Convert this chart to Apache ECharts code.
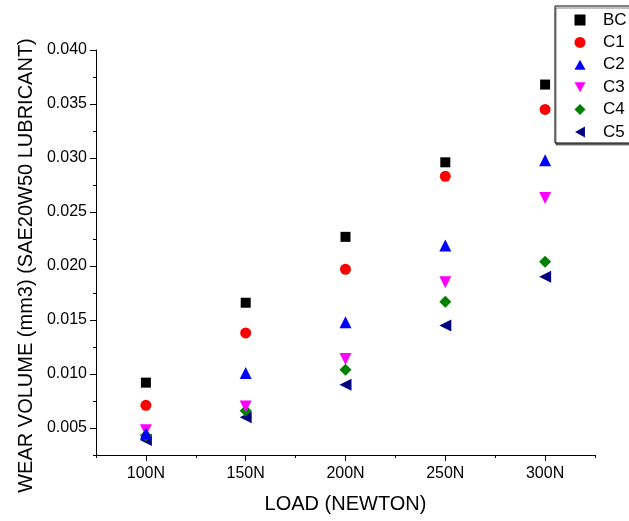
<!DOCTYPE html>
<html><head><meta charset="utf-8">
<script src="https://cdn.jsdelivr.net/npm/echarts@6/dist/echarts.min.js"></script>
<style>html,body{margin:0;padding:0;background:#fff}#c{width:629px;height:521px}</style>
</head><body><div id="c"></div>
<script>
var loads = [100, 150, 200, 250, 300];
var seriesNames = ['BC', 'C1', 'C2', 'C3', 'C4', 'C5'];
var BC = [0.0092, 0.0166, 0.0227, 0.0296, 0.0368];
var C1 = [0.0071, 0.0138, 0.0197, 0.0283, 0.0345];
var C2 = [0.0045, 0.0101, 0.0148, 0.0219, 0.0298];
var C3 = [0.0048, 0.0070, 0.0114, 0.0185, 0.0263];
var C4 = [0.0043, 0.0066, 0.0104, 0.0167, 0.0204];
var C5 = [0.0039, 0.0060, 0.0090, 0.0145, 0.0190];
var yMajor = [0.005, 0.010, 0.015, 0.020, 0.025, 0.030, 0.035, 0.040];
var yMinor = [0.0025, 0.0075, 0.0125, 0.0175, 0.0225, 0.0275, 0.0325, 0.0375];
var xMinor = [75, 125, 175, 225, 275, 325];

var values = [BC, C1, C2, C3, C4, C5];
var colors = ['#000000', '#ff0000', '#0000ff', '#ff00ff', '#008000', '#000080'];
var symbols = ['rect', 'circle', 'triangle', 'triangle', 'diamond', 'triangle'];
var legendIcons = ['rect', 'circle', 'path://M5,0 L10,9 L0,9 Z', 'path://M0,0 L10,0 L5,9 Z', 'diamond', 'path://M0,5 L9,0 L9,10 Z'];
var rotates = [0, 0, 0, 180, 0, 90];
var sizes = [10, 11, 12, 12, 12, 12];
var font = "'Liberation Sans', Arial, sans-serif";

var series = seriesNames.map(function (n, i) {
  return {
    name: n, type: 'scatter', xAxisIndex: 0, yAxisIndex: 0,
    symbol: symbols[i], symbolRotate: rotates[i], symbolSize: sizes[i],
    itemStyle: { color: colors[i], opacity: 1 },
    data: loads.map(function (x, j) { return [x, values[i][j]]; }),
    z: 10 - i
  };
});

var chart = echarts.init(document.getElementById('c'));
chart.setOption({
  animation: false,
  backgroundColor: '#fff',
  grid: { left: 96, right: 34, top: 50, bottom: 66 },
  legend: {
    orient: 'vertical', left: 555, top: 6,
    data: seriesNames.map(function (n, i) { return { name: n, icon: legendIcons[i] }; }),
    backgroundColor: '#fff', borderColor: '#000', borderWidth: 1,
    padding: [5.5, 20, 2.5, 19.5], itemGap: 5.4, itemWidth: 11, itemHeight: 11,
    textStyle: { fontFamily: font, fontSize: 17, lineHeight: 17, color: '#000', padding: [0, 0, 0, 12.5] },
    shadowColor: 'rgba(0,0,0,0.5)', shadowOffsetY: 2, shadowOffsetX: 1, shadowBlur: 0
  },
  xAxis: [{
    type: 'value', min: 75, max: 325, position: 'bottom',
    name: 'LOAD (NEWTON)', nameLocation: 'middle', nameGap: 39,
    nameTextStyle: { fontFamily: font, fontSize: 20, color: '#000' },
    axisLine: { show: true, lineStyle: { color: '#000', width: 1 } },
    axisTick: { show: true, length: 6, inside: false, customValues: loads, lineStyle: { color: '#000' } },
    axisLabel: { customValues: loads, formatter: function (v) { return v + 'N'; }, fontFamily: font, fontSize: 16, color: '#000', margin: 11 },
    splitLine: { show: false }
  }, {
    type: 'value', min: 75, max: 325, position: 'bottom',
    axisLine: { show: false },
    axisTick: { show: true, length: 3, customValues: xMinor, lineStyle: { color: '#000' } },
    axisLabel: { show: false }, splitLine: { show: false }
  }],
  yAxis: [{
    type: 'value', min: 0.0025, max: 0.040,
    name: 'WEAR VOLUME (mm3) (SAE20W50 LUBRICANT)', nameLocation: 'middle', nameGap: 59,
    nameTextStyle: { fontFamily: font, fontSize: 20, color: '#000', padding: [0, 26, 0, 0] },
    axisLine: { show: true, lineStyle: { color: '#000', width: 1 } },
    axisTick: { show: true, length: 6, customValues: yMajor, lineStyle: { color: '#000' } },
    axisLabel: { customValues: yMajor, formatter: function (v) { return v.toFixed(3); }, fontFamily: font, fontSize: 16, color: '#000', margin: 9 },
    splitLine: { show: false }
  }, {
    type: 'value', min: 0.0025, max: 0.040, position: 'left',
    axisLine: { show: false },
    axisTick: { show: true, length: 3, customValues: yMinor, lineStyle: { color: '#000' } },
    axisLabel: { show: false }, splitLine: { show: false }
  }],
  series: series
});
</script></body></html>
